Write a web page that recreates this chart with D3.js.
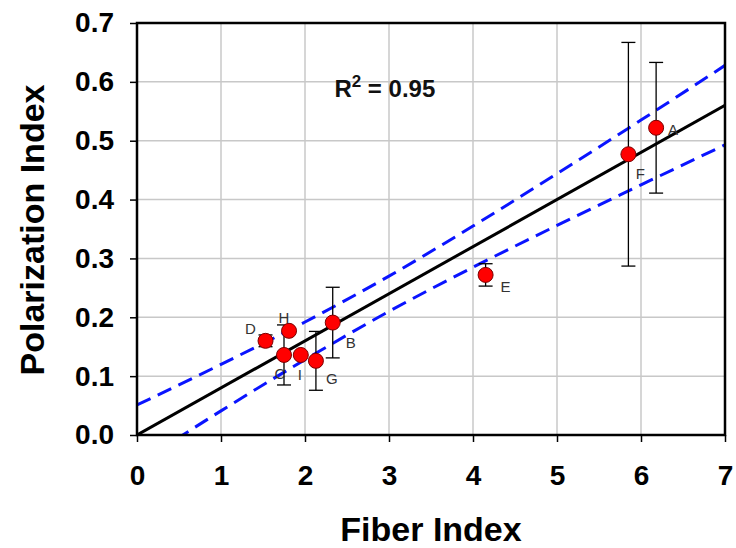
<!DOCTYPE html>
<html>
<head>
<meta charset="utf-8">
<script src="https://cdn.jsdelivr.net/npm/d3@7"></script>
<style>
  html, body { margin: 0; padding: 0; background: #fff; }
  svg { display: block; font-family: "Liberation Sans", Arial, sans-serif; }
</style>
</head>
<body>
<div id="chart"></div>
<script>
// Samples: fiber index vs polarization index, with std error bars
const labels  = ['A', 'B', 'C', 'D', 'E', 'F', 'G', 'H', 'I'];
const fiber   = [6.18, 2.33, 1.75, 1.53, 4.15, 5.85, 2.13, 1.81, 1.95];
const polar   = [0.522, 0.191, 0.136, 0.160, 0.272, 0.477, 0.126, 0.177, 0.136];
const errBar  = [0.111, 0.060, 0.051, 0.010, 0.019, 0.190, 0.050, 0.000, 0.000];

// Linear fit (through origin) and its 95% confidence band
const fitX    = [0, 7];
const fitY    = [0, 0.56];
const bandX   = [0, 1, 2, 3, 4, 5, 6, 7];
const bandHi  = [0.051, 0.120, 0.192, 0.270, 0.355, 0.444, 0.535, 0.628];
const bandLo  = [-0.050, 0.041, 0.128, 0.210, 0.285, 0.356, 0.425, 0.493];

const xTicks  = [0, 1, 2, 3, 4, 5, 6, 7];
const yTicks  = [0, 0.1, 0.2, 0.3, 0.4, 0.5, 0.6, 0.7];
const r2Text  = '0.95';

// label offsets from their point (px)
const LABEL_OFFSET = {
  A: [17, 2], B: [18, 20], C: [-4, 19], D: [-15, -12], E: [20, 12],
  F: [12, 19], G: [16, 18], H: [-5, -13], I: [-1, 20]
};

const W = 736, H = 548;
const margin = { top: 23, right: 11, bottom: 113, left: 137 };
const iw = W - margin.left - margin.right;
const ih = H - margin.top - margin.bottom;

const svg = d3.select('#chart').append('svg')
  .attr('width', W).attr('height', H);

const x = d3.scaleLinear().domain([0, 7]).range([0, iw]);
const y = d3.scaleLinear().domain([0, 0.7]).range([ih, 0]);

const g = svg.append('g').attr('transform', `translate(${margin.left},${margin.top})`);

svg.append('defs').append('clipPath').attr('id', 'plotclip')
  .append('rect').attr('width', iw).attr('height', ih);

// gridlines
g.append('g').selectAll('line.vx').data(xTicks.slice(1, -1)).join('line')
  .attr('x1', d => x(d)).attr('x2', d => x(d))
  .attr('y1', 0).attr('y2', ih)
  .attr('stroke', '#c8c8c8').attr('stroke-width', 1.5);
g.append('g').selectAll('line.hy').data(yTicks.slice(1, -1)).join('line')
  .attr('y1', d => y(d)).attr('y2', d => y(d))
  .attr('x1', 0).attr('x2', iw)
  .attr('stroke', '#c8c8c8').attr('stroke-width', 1.5);

// axes
const xAxis = g.append('g').attr('transform', `translate(0,${ih})`)
  .call(d3.axisBottom(x).tickValues(xTicks).tickFormat(d3.format('d')).tickSize(7).tickPadding(23));
const yAxis = g.append('g')
  .call(d3.axisLeft(y).tickValues(yTicks).tickFormat(d3.format('.1f')).tickSize(7).tickPadding(16));
[xAxis, yAxis].forEach(a => {
  a.select('.domain').remove();
  a.selectAll('line').attr('stroke', '#000').attr('stroke-width', 1.5);
  a.selectAll('text').attr('fill', '#000').attr('font-size', 28).attr('font-weight', 'bold')
    .attr('font-family', '"Liberation Sans", Arial, sans-serif');
});

const plot = g.append('g').attr('clip-path', 'url(#plotclip)');

// confidence band (dashed blue)
const bandLine = d3.line().x(d => x(d[0])).y(d => y(d[1])).curve(d3.curveMonotoneX);
[bandHi, bandLo].forEach(arr => {
  plot.append('path')
    .datum(bandX.map((v, i) => [v, arr[i]]))
    .attr('d', bandLine)
    .attr('fill', 'none').attr('stroke', '#0a14ff')
    .attr('stroke-width', 3).attr('stroke-dasharray', '15,8');
});

// fit line
plot.append('path')
  .datum(fitX.map((v, i) => [v, fitY[i]]))
  .attr('d', d3.line().x(d => x(d[0])).y(d => y(d[1])))
  .attr('fill', 'none').attr('stroke', '#000').attr('stroke-width', 3);

// error bars
const pts = labels.map((l, i) => ({ l, x: fiber[i], y: polar[i], e: errBar[i] }));
const eb = g.append('g').selectAll('g').data(pts.filter(d => d.e > 0)).join('g')
  .attr('stroke', '#000').attr('stroke-width', 1.3);
eb.append('line').attr('x1', d => x(d.x)).attr('x2', d => x(d.x))
  .attr('y1', d => y(d.y - d.e)).attr('y2', d => y(d.y + d.e));
eb.append('line').attr('x1', d => x(d.x) - 7).attr('x2', d => x(d.x) + 7)
  .attr('y1', d => y(d.y + d.e)).attr('y2', d => y(d.y + d.e));
eb.append('line').attr('x1', d => x(d.x) - 7).attr('x2', d => x(d.x) + 7)
  .attr('y1', d => y(d.y - d.e)).attr('y2', d => y(d.y - d.e));

// points
g.append('g').selectAll('circle').data(pts).join('circle')
  .attr('cx', d => x(d.x)).attr('cy', d => y(d.y)).attr('r', 7.5)
  .attr('fill', '#ff0000').attr('stroke', '#7a0000').attr('stroke-width', 1);

// point labels
g.append('g').selectAll('text').data(pts).join('text')
  .attr('x', d => x(d.x) + LABEL_OFFSET[d.l][0])
  .attr('y', d => y(d.y) + LABEL_OFFSET[d.l][1])
  .attr('text-anchor', 'middle').attr('dy', '0.35em')
  .attr('font-size', 15).attr('fill', '#333')
  .text(d => d.l);

// frame
g.append('rect').attr('width', iw).attr('height', ih)
  .attr('fill', 'none').attr('stroke', '#000').attr('stroke-width', 2.5);

// R² annotation
const r2 = g.append('text')
  .attr('x', x(2.35)).attr('y', y(0.575))
  .attr('font-size', 24).attr('font-weight', 'bold').attr('fill', '#111');
r2.append('tspan').text('R');
r2.append('tspan').attr('font-size', 17).attr('dy', -10).text('2');
r2.append('tspan').attr('dy', 10).text(' = ' + r2Text);

// axis titles
svg.append('text')
  .attr('x', margin.left + iw / 2).attr('y', 541)
  .attr('text-anchor', 'middle').attr('font-size', 34).attr('font-weight', 'bold')
  .text('Fiber Index');
svg.append('text')
  .attr('transform', `translate(44,${margin.top + 207}) rotate(-90)`)
  .attr('text-anchor', 'middle').attr('font-size', 34).attr('font-weight', 'bold')
  .text('Polarization Index');
</script>
</body>
</html>
